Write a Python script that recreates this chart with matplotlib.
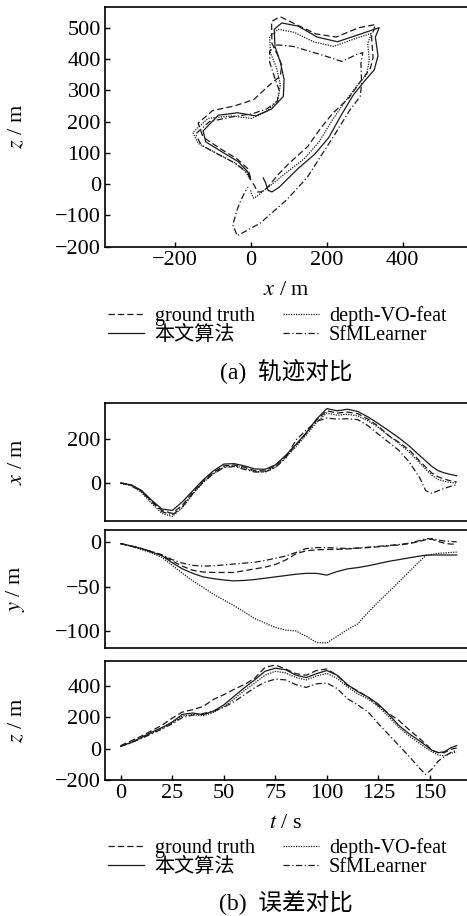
"""Trajectory comparison (x-z) and per-axis position vs time for four methods."""

import matplotlib.pyplot as plt

# time stamps shared by all methods, s
t = [0, 5, 10, 15, 20, 25, 30, 35, 40, 45, 50, 55, 60, 65, 70, 75, 80, 85,
     90, 95, 100, 105, 110, 115, 120, 125, 130, 135, 140, 145, 148, 151,
     154, 157, 160, 163]

METHODS = ["ground truth", "本文算法", "depth-VO-feat", "SfMLearner"]

# x position, m
x_gt = [0, -8, -35, -82, -125, -138, -100, -42, 8, 48, 78, 82, 72, 56, 55,
        78, 120, 172, 225, 285, 328, 318, 322, 315, 290, 258, 215, 185, 150,
        100, 72, 45, 28, 18, 10, 5]
x_ours = [0, -8, -33, -78, -118, -125, -85, -35, 14, 55, 86, 88, 78, 64, 62,
          82, 125, 175, 228, 290, 338, 328, 335, 325, 300, 270, 238, 205,
          168, 125, 100, 75, 56, 46, 39, 33]
x_dvo = [-2, -12, -42, -92, -138, -152, -112, -50, 2, 42, 72, 78, 68, 52, 50,
         72, 115, 165, 218, 275, 318, 308, 312, 305, 282, 252, 215, 180, 140,
         92, 62, 35, 16, 8, 2, 0]
x_sfm = [0, -10, -38, -85, -130, -145, -108, -48, 5, 42, 70, 75, 62, 50, 50,
         70, 112, 195, 240, 280, 295, 290, 292, 288, 260, 222, 185, 148, 95,
         25, -35, -47, -35, -25, -15, -7]

# y position, m
y_gt = [-1.5, -4, -7, -10.5, -14.5, -21, -27, -31.5, -33.5, -34, -34, -34,
        -32, -30, -28, -25, -20, -13, -9.5, -8.5, -8, -8, -7.5, -6.5, -6, -5,
        -4, -3, -1.5, 1, 3, 3.5, 1, -1, -2, -2]
y_ours = [-1.5, -4, -7, -11, -15, -23, -30, -35, -39, -41, -42.5, -43.5, -43,
          -42, -40.5, -39, -37.5, -36, -35, -35, -37, -33, -30, -28.5, -26.5,
          -24, -21.5, -19.5, -17.5, -15.5, -14.5, -14.3, -14.3, -14.3, -14.3,
          -14.3]
y_dvo = [-1.5, -4.5, -8, -12, -17, -26, -35, -43.5, -51, -58.5, -65, -71.5,
         -78.5, -86, -91, -96, -99, -100, -106, -113, -113.5, -106, -98.5, -92,
         -79, -67, -56, -44.5, -33, -21.5, -15, -13.5, -12.5, -12, -11.5, -11]
y_sfm = [-1.5, -4, -7, -10.5, -14, -19.5, -23.5, -26, -26.8, -26.5, -25.5,
         -24.5, -23.5, -22.5, -20.5, -18, -15.5, -11.5, -7, -6, -6, -6.5, -7,
         -6.5, -5.5, -4.5, -3.5, -2.5, -1, 2, 4, 4, 2.5, 1.5, 1, 0.5]

# z position, m
z_gt = [20, 50, 80, 115, 150, 195, 235, 250, 270, 315, 345, 380, 410, 450,
        520, 535, 510, 480, 470, 500, 510, 470, 405, 370, 330, 275, 225, 180,
        120, 65, 30, -10, -25, -25, -5, 5]
z_ours = [15, 40, 72, 105, 135, 170, 220, 228, 218, 240, 280, 335, 390, 440,
          495, 515, 505, 470, 455, 480, 500, 470, 410, 365, 330, 285, 220, 148,
          95, 50, 20, -10, -25, -20, 5, 20]
z_dvo = [15, 38, 68, 100, 130, 165, 210, 218, 210, 232, 268, 318, 372, 420,
         470, 495, 485, 455, 440, 465, 482, 450, 395, 350, 318, 270, 205, 135,
         80, 35, 5, -20, -40, -45, -30, -20]
z_sfm = [15, 38, 65, 95, 125, 160, 200, 215, 225, 240, 265, 300, 345, 390,
         425, 445, 440, 410, 392, 415, 420, 385, 320, 280, 235, 160, 90, 20,
         -50, -125, -165, -130, -80, -50, -25, -10]

STYLES = {
    "ground truth": (0, (5, 2.5)),
    "本文算法": "-",
    "depth-VO-feat": (0, (1, 1)),
    "SfMLearner": (0, (5, 2, 1, 2)),
}
LINE_COLOR = "#1a1a1a"
LW = 0.9

plt.rcParams["font.family"] = ["Liberation Serif", "Noto Sans CJK SC"]
plt.rcParams["mathtext.fontset"] = "stix"
plt.rcParams["axes.linewidth"] = 1.2
plt.rcParams["xtick.direction"] = "in"
plt.rcParams["ytick.direction"] = "in"
plt.rcParams["xtick.major.size"] = 3.5
plt.rcParams["ytick.major.size"] = 3.5
plt.rcParams["xtick.major.width"] = 1.0
plt.rcParams["ytick.major.width"] = 1.0
plt.rcParams["xtick.labelsize"] = 16
plt.rcParams["ytick.labelsize"] = 16

xs = {"ground truth": x_gt, "本文算法": x_ours, "depth-VO-feat": x_dvo, "SfMLearner": x_sfm}
ys = {"ground truth": y_gt, "本文算法": y_ours, "depth-VO-feat": y_dvo, "SfMLearner": y_sfm}
zs = {"ground truth": z_gt, "本文算法": z_ours, "depth-VO-feat": z_dvo, "SfMLearner": z_sfm}

LABEL_X = -0.215  # y-label anchor, axes fraction

fig = plt.figure(figsize=(4.67, 9.16), dpi=100)


def style_axes(ax):
    ax.spines["right"].set_visible(False)
    ax.tick_params(pad=3)


# (a) trajectory in the x-z plane
ax_traj = fig.add_axes([0.2248, 0.7307, 0.7752, 0.2613])
handles = []
for name in METHODS:
    (ln,) = ax_traj.plot(xs[name], zs[name], color=LINE_COLOR, lw=LW,
                         linestyle=STYLES[name], label=name)
    handles.append(ln)
ax_traj.set_xlim(-383, 569)
ax_traj.set_ylim(-200, 565)
ax_traj.set_xticks([-200, 0, 200, 400])
ax_traj.set_yticks(range(-200, 501, 100))
ax_traj.set_xlabel("$x$ / m", fontsize=16, labelpad=8)
ax_traj.set_ylabel("$z$ / m", fontsize=16)
ax_traj.yaxis.set_label_coords(LABEL_X, 0.5)
style_axes(ax_traj)

# (b) per-axis position over time
ax_x = fig.add_axes([0.2248, 0.4316, 0.7752, 0.1281])
ax_y = fig.add_axes([0.2248, 0.2923, 0.7752, 0.1291])
ax_z = fig.add_axes([0.2248, 0.1485, 0.7752, 0.1299])

for ax, series, ylim, yticks, lab in [
    (ax_x, xs, (-171, 362), [0, 200], "$x$ / m"),
    (ax_y, ys, (-119.5, 13.9), [-100, -50, 0], "$y$ / m"),
    (ax_z, zs, (-200, 561), [-200, 0, 200, 400], "$z$ / m"),
]:
    for name in METHODS:
        ax.plot(t, series[name], color=LINE_COLOR, lw=LW, linestyle=STYLES[name])
    ax.set_xlim(-7.6, 168)
    ax.set_ylim(*ylim)
    ax.set_yticks(yticks)
    ax.set_ylabel(lab, fontsize=16)
    ax.yaxis.set_label_coords(LABEL_X, 0.5)
    style_axes(ax)
    if ax is not ax_z:
        ax.tick_params(axis="x", bottom=False, labelbottom=False)

ax_z.set_xticks(range(0, 151, 25))
ax_z.set_xlabel("$t$ / s", fontsize=16, labelpad=8)

legend_kw = dict(ncol=2, frameon=False, fontsize=14.5, handlelength=1.8,
                 handletextpad=0.5, columnspacing=1.4, labelspacing=0.0,
                 borderpad=0, loc="center")
fig.legend(handles, METHODS, bbox_to_anchor=(0.594, 0.645), **legend_kw)
fig.legend(handles, METHODS, bbox_to_anchor=(0.594, 0.064), **legend_kw)

fig.text(0.612, 0.594, "(a)  轨迹对比", ha="center", va="center", fontsize=17)
fig.text(0.612, 0.0142, "(b)  误差对比", ha="center", va="center", fontsize=17)

fig.savefig("out.png", dpi=100)
